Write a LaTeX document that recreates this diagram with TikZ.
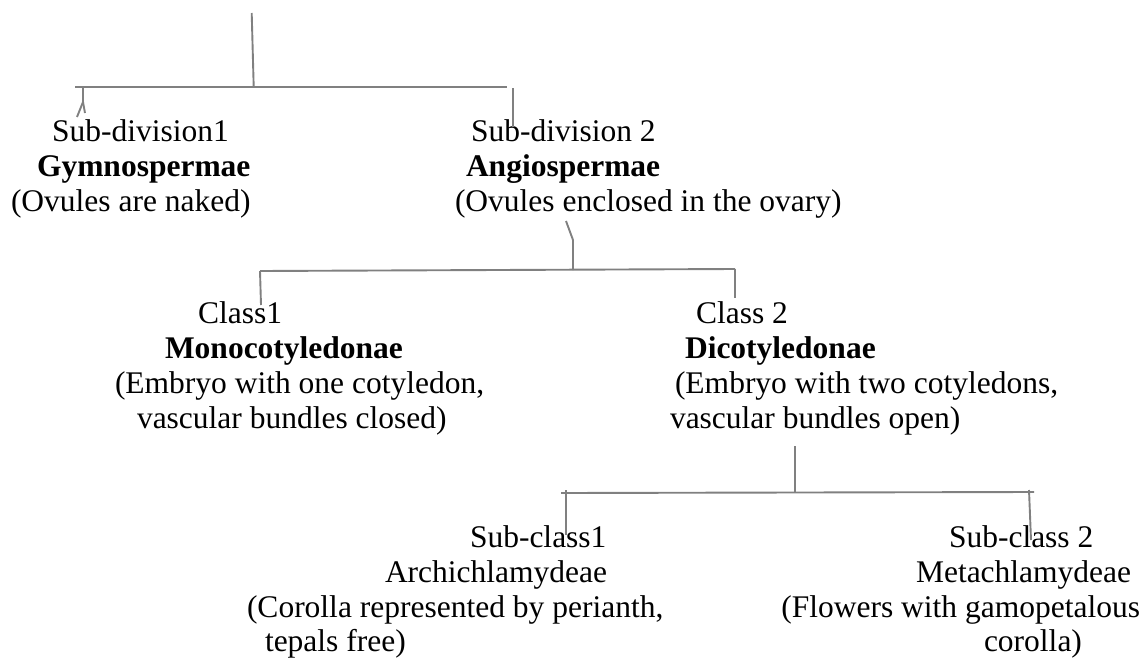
\documentclass[tikz,border=0pt]{standalone}
\usepackage{fontspec}
\setmainfont{Liberation Serif}
\begin{document}
\begin{tikzpicture}[x=1pt,y=-1pt,
  txt/.style={anchor=base west,inner sep=0pt,outer sep=0pt,font=\fontsize{31.5}{35}\selectfont},
  txtr/.style={txt,anchor=base east},
  bld/.style={txt,font=\fontsize{31.5}{35}\selectfont\bfseries},
  conn/.style={draw=black!50,line width=1.9pt}]
\useasboundingbox (0,0) rectangle (1148,661);
% --- text lines
\node[txt] (g1) at (52,141) {Sub-division1};
\node[bld] (g2) at (37,176) {Gymnospermae};
\node[txt] (g3) at (11,211) {(Ovules are naked)};
\node[txt] (a1) at (471,141) {Sub-division 2};
\node[bld] (a2) at (466,176) {Angiospermae};
\node[txt] (a3) at (455,211) {(Ovules enclosed in the ovary)};
\node[txt] (m1) at (198,323) {Class1};
\node[bld] (m2) at (165,358) {Monocotyledonae};
\node[txt] (m3) at (115,393) {(Embryo with one cotyledon,};
\node[txt] (m4) at (137,428) {vascular bundles closed)};
\node[txt] (d1) at (696,323) {Class 2};
\node[bld] (d2) at (685,358) {Dicotyledonae};
\node[txt] (d3) at (675,393) {(Embryo with two cotyledons,};
\node[txt] (d4) at (670,428) {vascular bundles open)};
\node[txt] (s1) at (470,547) {Sub-class1};
\node[txt] (s2) at (385,582) {Archichlamydeae};
\node[txt] (s3) at (247,617) {(Corolla represented by perianth,};
\node[txt] (s4) at (265,651) {tepals free)};
\node[txt] (t1) at (949,547) {Sub-class 2};
\node[txt] (t2) at (916,582) {Metachlamydeae};
\node[txtr] (t3) at (1140,617) {(Flowers with gamopetalous};
\node[txt] (t4) at (984,651) {corolla)};
% --- connector points
\coordinate (r0) at (251.7,13);
\coordinate (r1) at (253.7,87);
\coordinate (hL) at (75,87);
\coordinate (hR) at (507,87);
\coordinate (gA) at (83,87);
\coordinate (gB) at (83,102);
\coordinate (gC) at (85,113);
\coordinate (gD) at (77,117);
\coordinate (aA) at (513,88);
\coordinate (aB) at (513,127);
\coordinate (c0) at (566,221);
\coordinate (c1) at (573,240);
\coordinate (c2) at (573,270);
\coordinate (cL) at (260,271);
\coordinate (cR) at (735,269);
\coordinate (mB) at (261,305);
\coordinate (dB) at (735,298);
\coordinate (e0) at (795,446);
\coordinate (e1) at (795,492.5);
\coordinate (eL) at (561,493);
\coordinate (eR) at (1034,492);
\coordinate (sA) at (566,490);
\coordinate (sB) at (566,535);
\coordinate (tA) at (1029,490);
\coordinate (tB) at (1031,540);
% --- connectors
\draw[conn] (r0) -- (r1);
\draw[conn] (hL) -- (hR);
\draw[conn] (gA) -- (gB) -- (gC);
\draw[conn] (gB) -- (gD);
\draw[conn] (aA) -- (aB);
\draw[conn] (c0) -- (c1) -- (c2);
\draw[conn] (cL) -- (cR);
\draw[conn] (cL) -- (mB);
\draw[conn] (cR) -- (dB);
\draw[conn] (e0) -- (e1);
\draw[conn] (eL) -- (eR);
\draw[conn] (sA) -- (sB);
\draw[conn] (tA) -- (tB);
\end{tikzpicture}
\end{document}
